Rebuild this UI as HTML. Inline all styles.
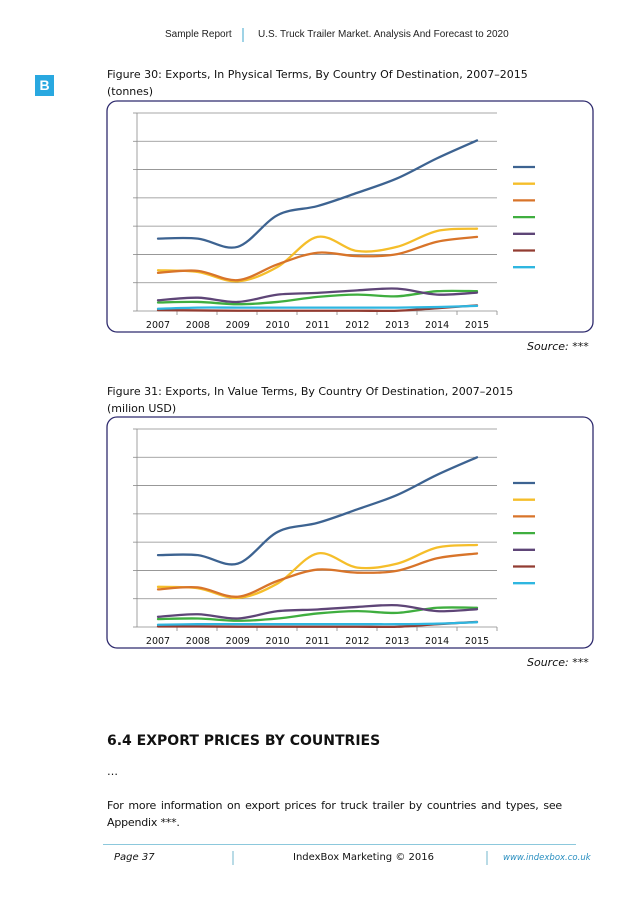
<!DOCTYPE html>
<html><head><meta charset="utf-8">
<style>
body{margin:0;width:638px;height:903px;background:#fff;position:relative;font-family:"DejaVu Sans","Liberation Sans",sans-serif;color:#111;overflow:hidden}
.abs{position:absolute;white-space:nowrap}
.hdr{font-family:"Liberation Sans",sans-serif;font-size:10px;color:#222}
.title{font-size:11px;line-height:17px}
.src{font-size:11px;font-style:italic}
svg{position:absolute;left:0}
</style></head><body>
<div class="abs hdr" style="left:165px;top:29px">Sample Report</div>
<div class="abs" style="left:242px;top:28px;width:2px;height:14px;background:#9fd3e6"></div>
<div class="abs hdr" style="left:258px;top:29px">U.S. Truck Trailer Market. Analysis And Forecast to 2020</div>
<div class="abs" style="left:35px;top:75px;width:19px;height:21px;background:#29a8e0;color:#fff;font:bold 14px 'Liberation Sans',sans-serif;text-align:center;line-height:21px">B</div>

<div class="abs title" style="left:107px;top:66px">Figure 30: Exports, In Physical Terms, By Country Of Destination, 2007–2015<br>(tonnes)</div>
<div class="abs src" style="left:527px;top:340px">Source: ***</div>
<div class="abs title" style="left:107px;top:383px">Figure 31: Exports, In Value Terms, By Country Of Destination, 2007–2015<br>(milion USD)</div>
<div class="abs src" style="left:527px;top:656px">Source: ***</div>

<div class="abs" style="left:107px;top:733px;font-weight:bold;font-size:14px">6.4 EXPORT PRICES BY COUNTRIES</div>
<div class="abs" style="left:107px;top:765px;font-size:11px">…</div>
<div class="abs" style="left:107px;top:797px;width:455px;font-size:11px;line-height:17px;white-space:normal;text-align:justify;word-spacing:0px;letter-spacing:-0.2px">For more information on export prices for truck trailer by countries and types, see Appendix ***.</div>

<div class="abs" style="left:103px;top:844px;width:473px;height:1px;background:#8cc8dc"></div>
<div class="abs" style="left:114px;top:852px;font-size:10px;font-style:italic">Page 37</div>
<div class="abs" style="left:232px;top:851px;width:2px;height:14px;background:#b9dbe6"></div>
<div class="abs" style="left:293px;top:852px;font-size:10px">IndexBox Marketing © 2016</div>
<div class="abs" style="left:486px;top:851px;width:2px;height:14px;background:#b9dbe6"></div>
<div class="abs" style="left:503px;top:853px;font-size:8.5px;font-style:italic;color:#2a8fc0">www.indexbox.co.uk</div>

<svg id="c1" width="638" height="903" style="top:0"></svg>
<svg id="c2" width="638" height="903" style="top:0"></svg>

<script>
const years=["2007","2008","2009","2010","2011","2012","2013","2014","2015"];
const seriesNames=["country-1","country-2","country-3","country-4","country-5","country-6","country-7"];
const colors=["#3d6391","#f5be2a","#d8742a","#3fae3f","#5e4577","#923c32","#2fb6e0"];
// chart 1 (physical terms), in gridline units 0-7
const phys1=[2.56,2.56,2.27,3.39,3.71,4.18,4.69,5.40,6.03];
const phys2=[1.44,1.38,1.05,1.56,2.62,2.12,2.27,2.83,2.91];
const phys3=[1.35,1.42,1.09,1.65,2.06,1.94,2.01,2.45,2.62];
const phys4=[0.30,0.32,0.24,0.32,0.50,0.58,0.52,0.70,0.70];
const phys5=[0.38,0.47,0.32,0.58,0.64,0.73,0.79,0.58,0.65];
const phys6=[0.03,0.02,0.01,0.01,0.01,0.01,0.01,0.10,0.20];
const phys7=[0.08,0.12,0.12,0.12,0.12,0.12,0.12,0.14,0.18];
// chart 2 (value terms)
const val1=[2.54,2.54,2.24,3.36,3.68,4.16,4.67,5.38,6.00];
const val2=[1.42,1.37,1.03,1.54,2.60,2.10,2.24,2.81,2.90];
const val3=[1.33,1.40,1.07,1.63,2.03,1.92,1.99,2.43,2.60];
const val4=[0.28,0.30,0.22,0.30,0.48,0.56,0.50,0.68,0.68];
const val5=[0.36,0.45,0.30,0.56,0.62,0.71,0.77,0.56,0.63];
const val6=[0.02,0.02,0.01,0.01,0.01,0.01,0.01,0.10,0.18];
const val7=[0.08,0.10,0.10,0.10,0.10,0.10,0.10,0.12,0.17];
const yMax=7;

const NS="http://www.w3.org/2000/svg";
function mk(tag,attrs,parent){const e=document.createElementNS(NS,tag);for(const k in attrs)e.setAttribute(k,attrs[k]);parent.appendChild(e);return e;}
function smooth(pts){let d=`M${pts[0][0]},${pts[0][1]}`;for(let i=0;i<pts.length-1;i++){const p0=pts[i-1]||pts[i],p1=pts[i],p2=pts[i+1],p3=pts[i+2]||p2;const c1=[p1[0]+(p2[0]-p0[0])/6,p1[1]+(p2[1]-p0[1])/6],c2=[p2[0]-(p3[0]-p1[0])/6,p2[1]-(p3[1]-p1[1])/6];d+=` C${c1[0]},${c1[1]} ${c2[0]},${c2[1]} ${p2[0]},${p2[1]}`;}return d;}
function draw(svg,top,data){
  const boxTop=top-12, plotTop=top, plotBot=top+198, x0=137, x1=497;
  const xs=i=>158+i*(477-158)/(years.length-1);
  const ys=v=>plotBot-v/yMax*(plotBot-plotTop);
  const box=mk('rect',{x:107,y:boxTop,width:486,height:231,rx:10,fill:'#fff',stroke:'#2f2b6e','stroke-width':1.3},svg);
  
  
  for(let g=1;g<=yMax;g++){const l=mk('line',{x1:x0,x2:x1,y1:ys(g),y2:ys(g),stroke:'#8a8a8a','stroke-width':0.8},svg);
    
    }
  const ya=mk('line',{x1:x0,x2:x0,y1:plotTop,y2:plotBot,stroke:'#8a8a8a','stroke-width':0.8},svg);
  
  
  const xa=mk('line',{x1:x0,x2:x1,y1:plotBot,y2:plotBot,stroke:'#8a8a8a','stroke-width':0.8},svg);
  
  
  for(let g=0;g<=yMax;g++){const t=mk('line',{x1:x0-4,x2:x0,y1:ys(g),y2:ys(g),stroke:'#8a8a8a','stroke-width':0.8},svg);
    
    }
  years.forEach((y,i)=>{
    const bx=x0+(i+1)*(x1-x0)/years.length;
    const t=mk('line',{x1:bx,x2:bx,y1:plotBot,y2:plotBot+4,stroke:'#8a8a8a','stroke-width':0.8},svg);
    
    
    const tx=mk('text',{x:xs(i),y:plotBot+17,'text-anchor':'middle','font-size':'9.5','font-family':'DejaVu Sans, sans-serif',fill:'#111'},svg);
    tx.textContent=y;
    
    
  });
  for(let s=0;s<data.length;s++){
    const pts=data[s].map((v,i)=>[xs(i),ys(v)]);
    const p=mk('path',{d:smooth(pts),fill:'none',stroke:colors[s],'stroke-width':2.3,'stroke-linecap':'round'},svg);
    
    
  }
  data.forEach((_,s)=>{
    const ly=top+54+s*16.7;
    const l=mk('line',{x1:513,x2:535,y1:ly,y2:ly,stroke:colors[s],'stroke-width':2.3},svg);
    
    
  });
}
draw(document.getElementById('c1'),113,[phys1,phys2,phys3,phys4,phys5,phys6,phys7]);
draw(document.getElementById('c2'),429,[val1,val2,val3,val4,val5,val6,val7]);
</script>
</body></html>
